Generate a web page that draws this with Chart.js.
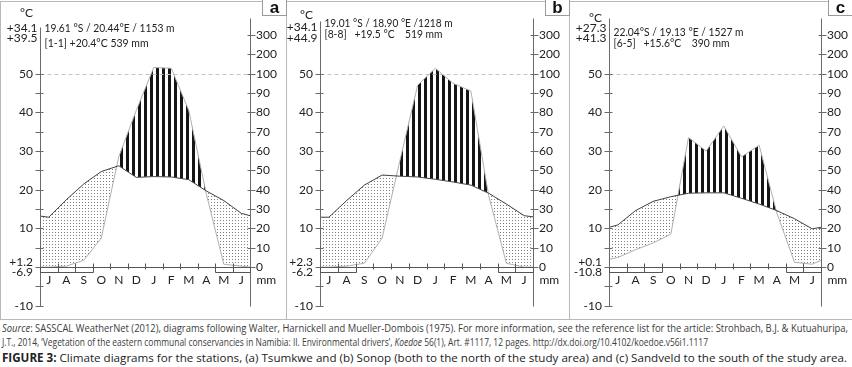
<!DOCTYPE html>
<html>
<head>
<meta charset="utf-8">
<script src="https://cdn.jsdelivr.net/npm/chart.js@4.4.1/dist/chart.umd.min.js"></script>
<style>
  body { margin: 0; background: #fff; }
  #wrap { position: relative; width: 852px; height: 367px; overflow: hidden; background: #fff; }
  #wrap canvas { position: absolute; top: 0; }
  .ln { position: absolute; background: #b8b8b8; }
  .tag { position: absolute; top: 0; width: 23px; height: 15px; border: 1px solid #9a9a9a; border-top: none;
         background: #fff; font: bold 17px "Liberation Sans", Arial, sans-serif; text-align: center; line-height: 15px; color: #111; }
  .cap { position: absolute; left: 2px; white-space: nowrap; transform-origin: 0 0; color: #3c3c3c;
         font-family: "Liberation Sans Narrow", "Open Sans", sans-serif; }
</style>
</head>
<body>
<div id="wrap">
  <div class="ln" style="left:0;top:1px;width:852px;height:1px"></div>
  <div class="ln" style="left:0;top:1px;width:1px;height:318px"></div>
  <div class="ln" style="left:286px;top:1px;width:1px;height:318px"></div>
  <div class="ln" style="left:569px;top:1px;width:1px;height:318px"></div>
  <div class="ln" style="left:0;top:319px;width:852px;height:1px"></div>

  <div class="cap" id="cap1" style="top:321px;font-size:10.5px"><i>Source</i>: SASSCAL WeatherNet (2012), diagrams following Walter, Harnickell and Mueller-Dombois (1975). For more information, see the reference list for the article: Strohbach, B.J. &amp; Kutuahuripa,</div>
  <div class="cap" id="cap2" style="top:335px;font-size:10.5px">J.T., 2014, ‘Vegetation of the eastern communal conservancies in Namibia: II. Environmental drivers’, <i>Koedoe</i> 56(1), Art. #1117, 12 pages. http://dx.doi.org/10.4102/koedoe.v56i1.1117</div>
  <div class="cap" id="cap3" style="top:350px;font-size:11.5px;color:#222"><b>FIGURE 3:</b> Climate diagrams for the stations, (a) Tsumkwe and (b) Sonop (both to the north of the study area) and (c) Sandveld to the south of the study area.</div>
</div>

<script>
// months July..June (southern hemisphere)
var months = ['J', 'A', 'S', 'O', 'N', 'D', 'J', 'F', 'M', 'A', 'M', 'J'];

// left axis tick labels (°C) and right axis tick labels (mm)
var tempLabels = [-10, 10, 20, 30, 40, 50];
var mmTicks = [0, 10, 20, 30, 40, 50, 60, 70, 80, 90, 100, 200, 300];

// (a) Tsumkwe
var tsumkweTemp = [12.9, 17.4, 21.5, 24.7, 26.2, 23.2, 23.4, 23.3, 22.6, 19.7, 17.2, 13.9];
var tsumkwePrec = [0, 0.5, 3.5, 15, 57, 81, 132, 128, 81, 38, 1.5, 0.5];
var tsumkweEdgeTemp = [13.2, 13.3];
var tsumkweEdgePrec = [0, 0];
var tsumkweFrost = [0, 1, 2, 10, 11];
var tsumkweInfo = ['19.61 °S / 20.44°E / 1153 m', '[1-1] +20.4°C 539 mm'];
var tsumkweExtremes = ['+34.1', '+39.5', '+1.2', '-6.9'];

// (b) Sonop
var sonopTemp = [12.9, 17.2, 21.2, 23.8, 23.5, 23.3, 22.7, 22.0, 21.2, 19.1, 16.3, 13.3];
var sonopPrec = [0, 0.5, 2, 15, 55, 94, 128, 95, 91, 37, 2, 0];
var sonopEdgeTemp = [12.9, 13.0];
var sonopEdgePrec = [0, 0];
var sonopFrost = [0, 1, 10, 11];
var sonopInfo = ['19.01 °S / 18.90 °E /1218 m', '[8-8]   +19.5 °C    519 mm'];
var sonopExtremes = ['+34.1', '+44.9', '+2.3', '-6.2'];

// (c) Sandveld
var sandveldTemp = [10.9, 14.6, 17.0, 18.2, 19.1, 19.2, 19.2, 17.8, 16.3, 14.6, 12.5, 9.9];
var sandveldPrec = [5, 9, 12.5, 17, 67, 60, 73, 57, 63, 28, 2.5, 1.5];
var sandveldEdgeTemp = [10.3, 10.3];
var sandveldEdgePrec = [4, 3.5];
var sandveldFrost = [0, 1, 2, 10, 11];
var sandveldInfo = ['22.04°S / 19.13 °E / 1527 m', '[6-5]   +15.6°C    390 mm'];
var sandveldExtremes = ['+27.3', '+41.3', '+0.1', '-10.8'];

// Walter-Lieth: 10 °C = 20 mm up to 100 mm, then 10 °C = 200 mm
function mmToC(m) { return m <= 100 ? m / 2 : 50 + (m - 100) / 20; }

var xs = [0, 0.5, 1.5, 2.5, 3.5, 4.5, 5.5, 6.5, 7.5, 8.5, 9.5, 10.5, 11.5, 12];
function series(edge, vals) {
    var all = [edge[0]].concat(vals, [edge[1]]);
    return all.map(function (v, i) { return { x: xs[i], y: v }; });
}

// hatching patterns
function makePattern(w, h, draw) {
    var c = document.createElement('canvas');
    c.width = w; c.height = h;
    draw(c.getContext('2d'));
    return c.getContext('2d').createPattern(c, 'repeat');
}
var stripes = makePattern(6, 6, function (g) { g.fillStyle = '#151515'; g.fillRect(0, 0, 3, 6); });
var dots = makePattern(3, 3, function (g) { g.fillStyle = '#7e7e7e'; g.fillRect(1, 1, 1, 1); });

var FONT = 'Lato, "Open Sans", sans-serif';
var panels = [
    { name: 'a', x0: 0, w: 286, left: 40, right: 250, topL: 62, topR: 64.5,
      temp: tsumkweTemp, prec: tsumkwePrec, eT: tsumkweEdgeTemp, eP: tsumkweEdgePrec, frost: tsumkweFrost,
      info: tsumkweInfo, ext: tsumkweExtremes, infoY: [28, 43], infoW: [130, 104], extY: [13, 28, 38] },
    { name: 'b', x0: 286, w: 283, left: 34, right: 247, topL: 63.5, topR: 64.5,
      temp: sonopTemp, prec: sonopPrec, eT: sonopEdgeTemp, eP: sonopEdgePrec, frost: sonopFrost,
      info: sonopInfo, ext: sonopExtremes, infoY: [23, 34.5], infoW: [128, 118], extY: [15, 27, 38] },
    { name: 'c', x0: 569, w: 283, left: 40, right: 252, topL: 64.5, topR: 64.5,
      temp: sandveldTemp, prec: sandveldPrec, eT: sandveldEdgeTemp, eP: sandveldEdgePrec, frost: sandveldFrost,
      info: sandveldInfo, ext: sandveldExtremes, infoY: [32, 43.5], infoW: [130, 116], extY: [18, 28, 38] }
];

function makePanel(p) {
    var wrap = document.getElementById('wrap');
    var cv = document.createElement('canvas');
    cv.width = p.w; cv.height = 319;
    cv.style.left = p.x0 + 'px';
    wrap.appendChild(cv);

    var tag = document.createElement('div');
    tag.className = 'tag';
    tag.style.left = (p.x0 + p.w - 24) + 'px';
    tag.textContent = p.name;

    var deco = {
        id: 'deco' + p.name,
        afterDatasetsDraw: function (chart) {
            var ctx = chart.ctx, xS = chart.scales.x, yS = chart.scales.y;
            var X = function (v) { return Math.round(xS.getPixelForValue(v)) + 0.5; };
            var Y = function (v) { return Math.round(yS.getPixelForValue(v)) + 0.5; };
            var L = X(0), R = X(12);
            function line(x1, y1, x2, y2) { ctx.beginPath(); ctx.moveTo(x1, y1); ctx.lineTo(x2, y2); ctx.stroke(); }
            ctx.save();
            ctx.lineWidth = 1;
            // 100 mm line
            ctx.strokeStyle = '#c4c4c4';
            ctx.setLineDash([4, 3]);
            line(L, Y(50), R, Y(50));
            ctx.setLineDash([]);
            // axes
            ctx.strokeStyle = '#6a6a6a';
            line(L, Y(p.topL), L, Y(-10));
            line(R, Y(p.topR), R, Y(-10));
            for (var v = -10; v <= 50; v += 5) line(L - 5, Y(v), L + 3, Y(v));
            mmTicks.forEach(function (m) { line(R - 3, Y(mmToC(m)), R + 5, Y(mmToC(m))); });
            // zero line and month boundaries
            ctx.strokeStyle = '#555';
            line(L, Y(0), R, Y(0));
            for (var i = 1; i < 12; i++) {
                var inBox = p.frost.indexOf(i - 1) >= 0 && p.frost.indexOf(i) >= 0;
                line(X(i), Y(1), X(i), Y(inBox ? -1.3 : -0.4));
            }
            // frost boxes
            var runs = [], cur = null;
            p.frost.forEach(function (m) {
                if (cur && m === cur[1] + 1) cur[1] = m; else { cur = [m, m]; runs.push(cur); }
            });
            runs.forEach(function (r) {
                var a = X(r[0]), b = X(r[1] + 1);
                line(a, Y(0), a, Y(-1.3));
                line(b, Y(0), b, Y(-1.3));
                line(a, Y(-1.3), b, Y(-1.3));
            });
            // month labels
            ctx.fillStyle = '#222';
            ctx.font = '12px ' + FONT;
            ctx.textAlign = 'center';
            ctx.textBaseline = 'middle';
            months.forEach(function (m, k) { ctx.fillText(m, xS.getPixelForValue(k + 0.5), yS.getPixelForValue(-3.4)); });
            ctx.textAlign = 'left';
            ctx.fillText('mm', R + 6, yS.getPixelForValue(-3.4));
            // header texts
            ctx.textAlign = 'center';
            ctx.fillText('°C', L - 14, p.extY[0]);
            ctx.textAlign = 'right';
            ctx.fillText(p.ext[0], L - 3, p.extY[1]);
            ctx.fillText(p.ext[1], L - 3, p.extY[2]);
            ctx.textAlign = 'left';
            ctx.fillText(p.info[0], L + 4, p.infoY[0], p.infoW[0]);
            ctx.fillText(p.info[1], L + 4, p.infoY[1], p.infoW[1]);
            ctx.restore();
        }
    };

    new Chart(cv, {
        type: 'line',
        data: {
            datasets: [{
                label: 'Temperature',
                data: series(p.eT, p.temp),
                borderColor: '#444',
                borderWidth: 1,
                pointRadius: 0,
                tension: 0,
                fill: false
            }, {
                label: 'Precipitation',
                data: series(p.eP.map(mmToC), p.prec.map(mmToC)),
                borderColor: '#b0b0b0',
                borderWidth: 1,
                pointRadius: 0,
                tension: 0,
                fill: { target: 0, above: stripes, below: dots }
            }]
        },
        options: {
            responsive: false,
            animation: false,
            devicePixelRatio: 1,
            events: [],
            layout: { padding: { top: 15, bottom: 13, left: 0, right: 0 } },
            plugins: { legend: { display: false }, tooltip: { enabled: false } },
            scales: {
                x: { type: 'linear', min: 0, max: 12, display: false },
                y: {
                    position: 'left', min: -10, max: 64.6,
                    afterFit: function (s) { s.width = p.left; },
                    afterBuildTicks: function (s) {
                        s.ticks = tempLabels.concat([0]).map(function (v) { return { value: v }; });
                    },
                    ticks: {
                        autoSkip: false, padding: 7, color: '#222',
                        font: { family: FONT, size: 12, lineHeight: 0.85 },
                        callback: function (v) { return v === 0 ? [p.ext[2], p.ext[3]] : String(v); }
                    },
                    grid: { display: false, drawTicks: false },
                    border: { display: false }
                },
                y2: {
                    position: 'right', min: -10, max: 64.6,
                    afterFit: function (s) { s.width = p.w - p.right; },
                    afterBuildTicks: function (s) {
                        s.ticks = mmTicks.map(function (m) { return { value: mmToC(m) }; });
                    },
                    ticks: {
                        autoSkip: false, padding: 6, color: '#222',
                        font: { family: FONT, size: 12 },
                        callback: function (v, i) { return String(mmTicks[i]); }
                    },
                    grid: { display: false, drawTicks: false },
                    border: { display: false }
                }
            }
        },
        plugins: [deco]
    });
    wrap.appendChild(tag);
}

panels.forEach(makePanel);

// fit caption lines to their widths
[['cap1', 846], ['cap2', 706], ['cap3', 845]].forEach(function (c) {
    var el = document.getElementById(c[0]);
    var w = el.getBoundingClientRect().width;
    el.style.transform = 'scaleX(' + (c[1] / w) + ')';
});
</script>
</body>
</html>
